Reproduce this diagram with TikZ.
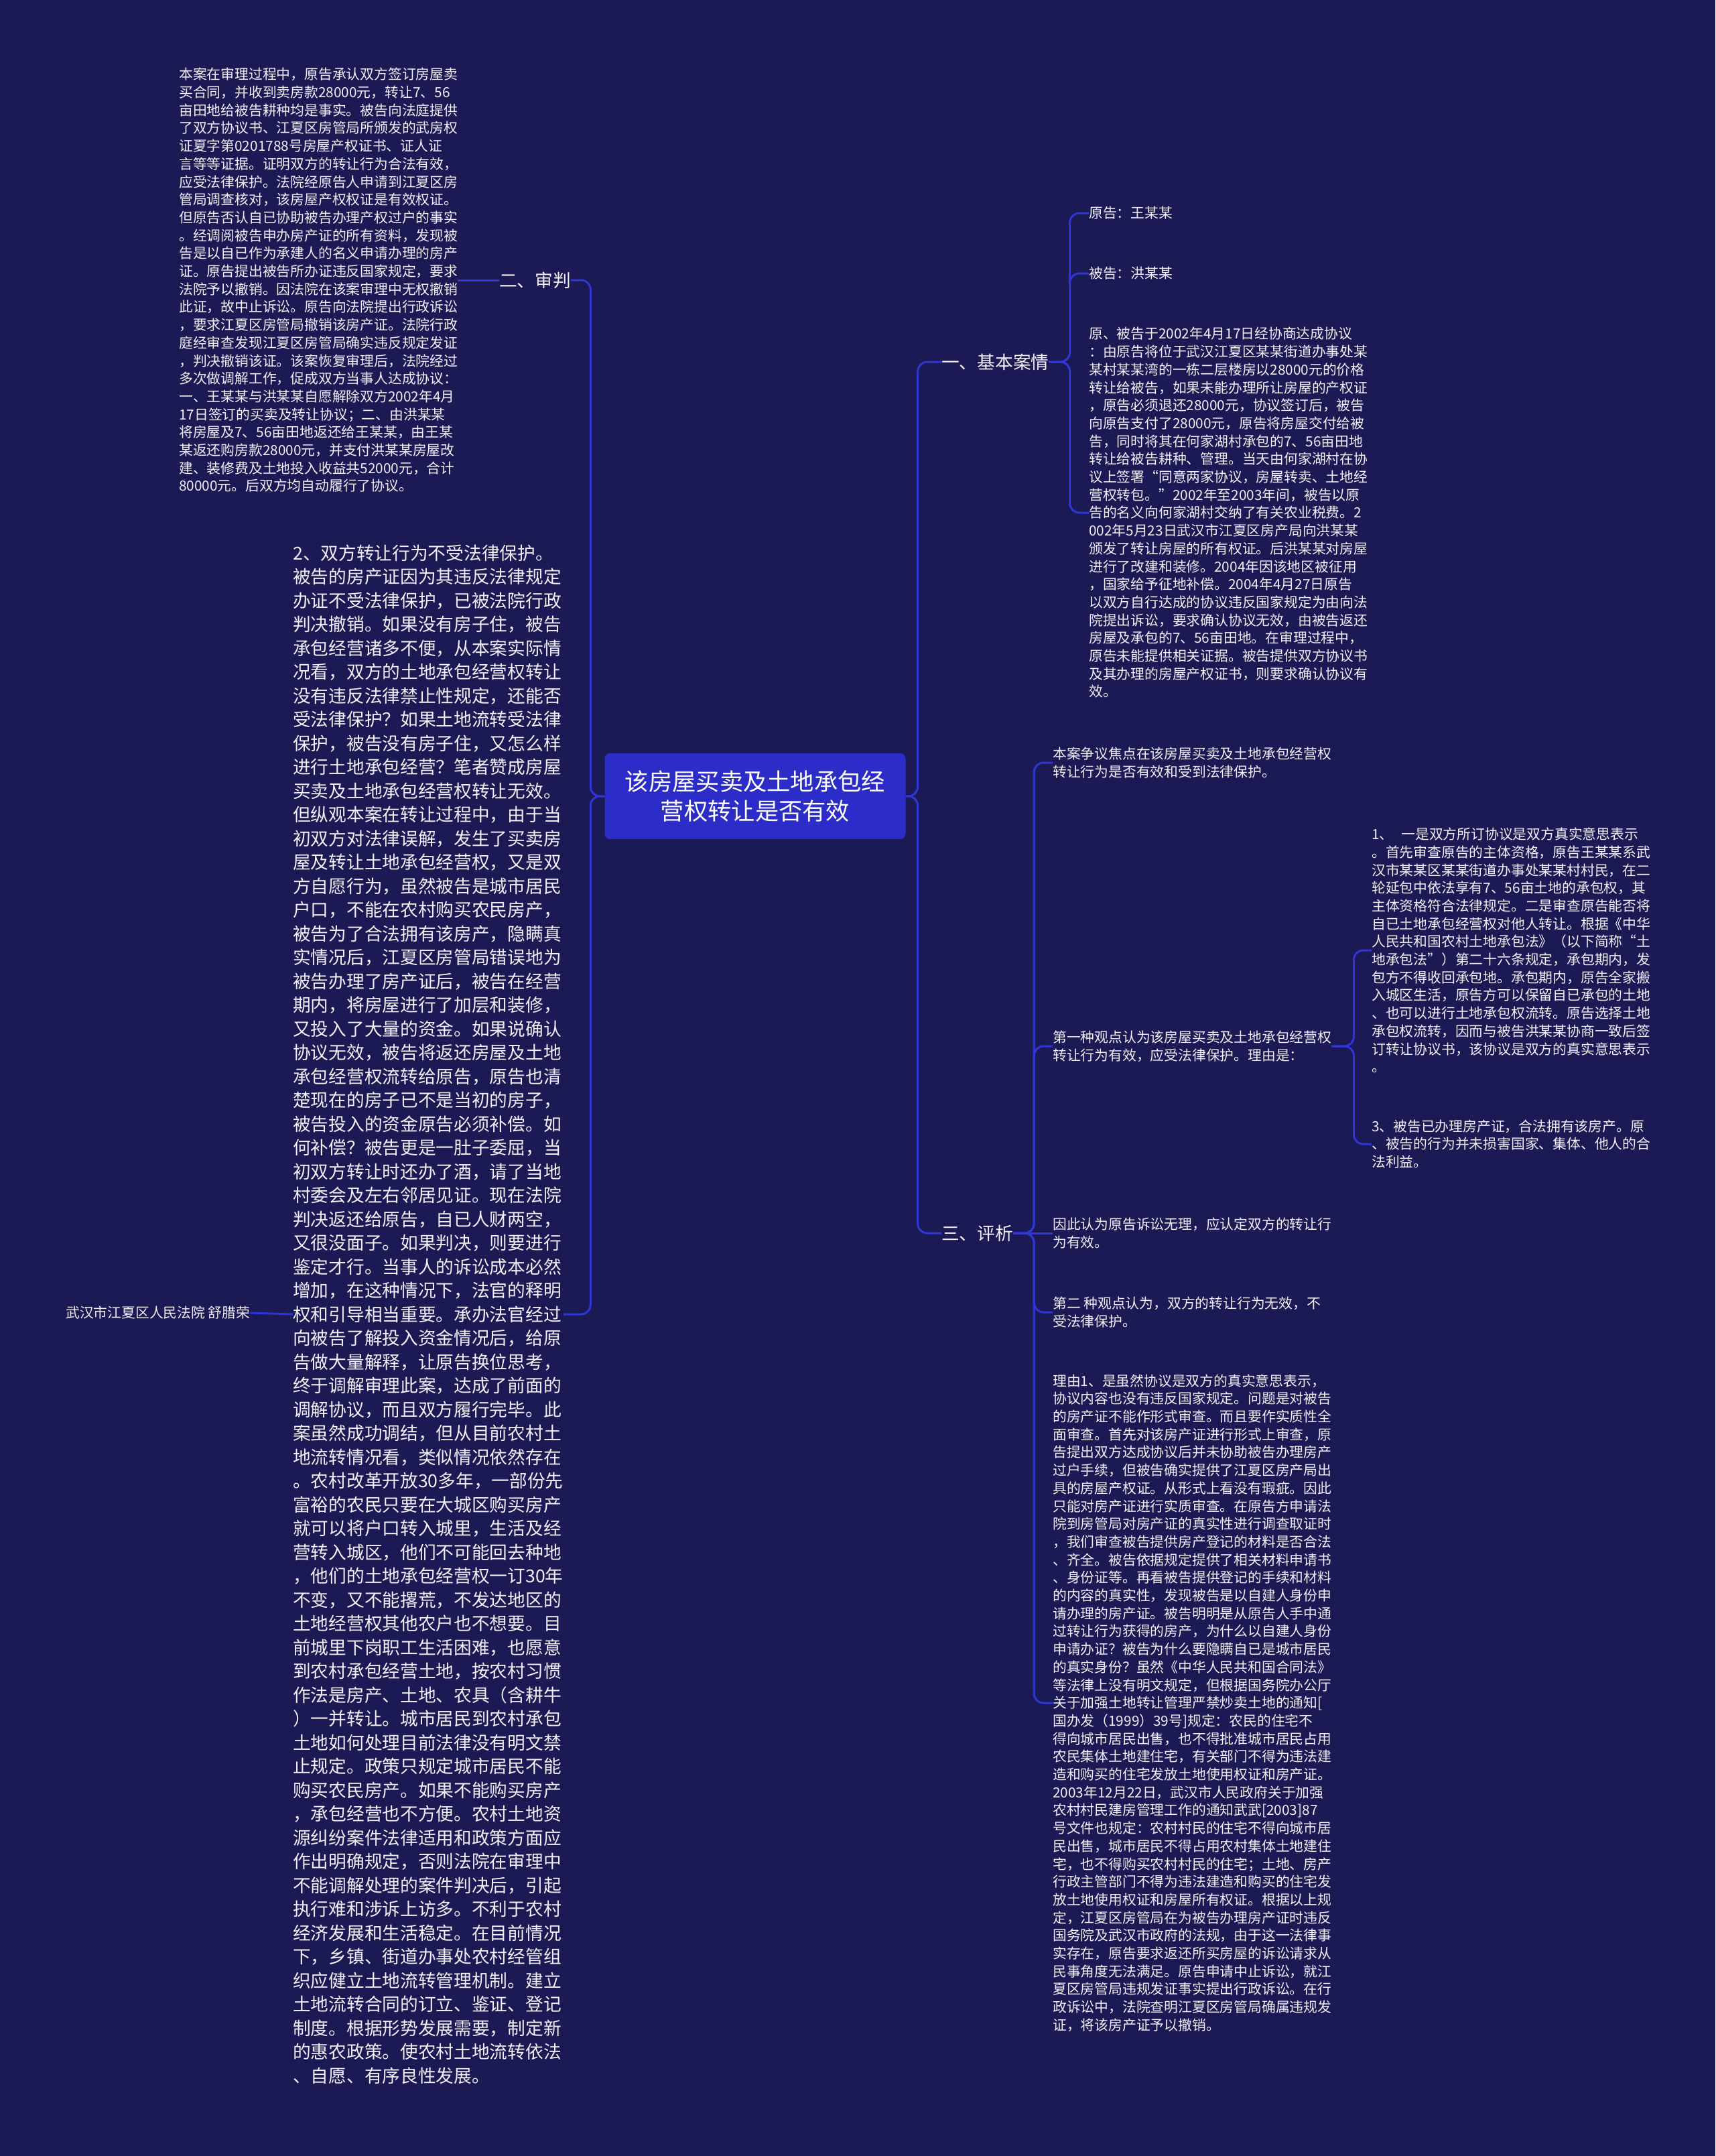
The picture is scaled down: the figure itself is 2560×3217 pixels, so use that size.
\documentclass[tikz,border=0pt]{standalone}
\usepackage{fontspec}
\setmainfont{Noto Sans CJK SC}
\definecolor{bgc}{HTML}{1B1A55}
\definecolor{centerc}{HTML}{2C2CC8}
\definecolor{linec}{HTML}{3036D6}
\definecolor{txtc}{HTML}{F0F0F6}
\begin{document}
\begin{tikzpicture}[x=1pt,y=-1pt,
  conn/.style={draw=linec, line width=3pt, rounded corners=14pt},
  small/.style={text=txtc, font=\fontsize{20.8}{26.7}\selectfont, align=left, inner sep=0pt, anchor=west},
  bigtext/.style={text=txtc, font=\fontsize{26.7}{35.5}\selectfont, align=left, inner sep=0pt, anchor=west},
  lbl/.style={text=txtc, font=\fontsize{26.7}{32}\selectfont, inner sep=0pt, anchor=west},
  rootbox/.style={fill=centerc, rounded corners=8pt, minimum width=449pt, minimum height=128pt, text=white, align=center, font=\fontsize{35.3}{44}\selectfont, inner sep=0pt}
]
\fill[bgc] (0,0) rectangle (2560,3217);
\useasboundingbox (0,0) rectangle (2560,3217);

% root
\node[rootbox] (root) at (1127,1188) {该房屋买卖及土地承包经\\营权转让是否有效};

% ---------- left side ----------
\node[lbl] (shenpan) at (745,418) {二、审判};
\node[small] (tl) at (267,418) {本案在审理过程中，原告承认双方签订房屋卖\\
买合同，并收到卖房款28000元，转让7、56\\
亩田地给被告耕种均是事实。被告向法庭提供\\
了双方协议书、江夏区房管局所颁发的武房权\\
证夏字第0201788号房屋产权证书、证人证\\
言等等证据。证明双方的转让行为合法有效，\\
应受法律保护。法院经原告人申请到江夏区房\\
管局调查核对，该房屋产权权证是有效权证。\\
但原告否认自已协助被告办理产权过户的事实\\
。经调阅被告申办房产证的所有资料，发现被\\
告是以自已作为承建人的名义申请办理的房产\\
证。原告提出被告所办证违反国家规定，要求\\
法院予以撤销。因法院在该案审理中无权撤销\\
此证，故中止诉讼。原告向法院提出行政诉讼\\
，要求江夏区房管局撤销该房产证。法院行政\\
庭经审查发现江夏区房管局确实违反规定发证\\
，判决撤销该证。该案恢复审理后，法院经过\\
多次做调解工作，促成双方当事人达成协议：\\
一、王某某与洪某某自愿解除双方2002年4月\\
17日签订的买卖及转让协议；二、由洪某某\\
将房屋及7、56亩田地返还给王某某，由王某\\
某返还购房款28000元，并支付洪某某房屋改\\
建、装修费及土地投入收益共52000元，合计\\
80000元。后双方均自动履行了协议。};

\node[bigtext] (bigleft) at (437,1961) {2、双方转让行为不受法律保护。\\
被告的房产证因为其违反法律规定\\
办证不受法律保护，已被法院行政\\
判决撤销。如果没有房子住，被告\\
承包经营诸多不便，从本案实际情\\
况看，双方的土地承包经营权转让\\
没有违反法律禁止性规定，还能否\\
受法律保护？如果土地流转受法律\\
保护，被告没有房子住，又怎么样\\
进行土地承包经营？笔者赞成房屋\\
买卖及土地承包经营权转让无效。\\
但纵观本案在转让过程中，由于当\\
初双方对法律误解，发生了买卖房\\
屋及转让土地承包经营权，又是双\\
方自愿行为，虽然被告是城市居民\\
户口，不能在农村购买农民房产，\\
被告为了合法拥有该房产，隐瞒真\\
实情况后，江夏区房管局错误地为\\
被告办理了房产证后，被告在经营\\
期内，将房屋进行了加层和装修，\\
又投入了大量的资金。如果说确认\\
协议无效，被告将返还房屋及土地\\
承包经营权流转给原告，原告也清\\
楚现在的房子已不是当初的房子，\\
被告投入的资金原告必须补偿。如\\
何补偿？被告更是一肚子委屈，当\\
初双方转让时还办了酒，请了当地\\
村委会及左右邻居见证。现在法院\\
判决返还给原告，自已人财两空，\\
又很没面子。如果判决，则要进行\\
鉴定才行。当事人的诉讼成本必然\\
增加，在这种情况下，法官的释明\\
权和引导相当重要。承办法官经过\\
向被告了解投入资金情况后，给原\\
告做大量解释，让原告换位思考，\\
终于调解审理此案，达成了前面的\\
调解协议，而且双方履行完毕。此\\
案虽然成功调结，但从目前农村土\\
地流转情况看，类似情况依然存在\\
。农村改革开放30多年，一部份先\\
富裕的农民只要在大城区购买房产\\
就可以将户口转入城里，生活及经\\
营转入城区，他们不可能回去种地\\
，他们的土地承包经营权一订30年\\
不变，又不能撂荒，不发达地区的\\
土地经营权其他农户也不想要。目\\
前城里下岗职工生活困难，也愿意\\
到农村承包经营土地，按农村习惯\\
作法是房产、土地、农具（含耕牛\\
）一并转让。城市居民到农村承包\\
土地如何处理目前法律没有明文禁\\
止规定。政策只规定城市居民不能\\
购买农民房产。如果不能购买房产\\
，承包经营也不方便。农村土地资\\
源纠纷案件法律适用和政策方面应\\
作出明确规定，否则法院在审理中\\
不能调解处理的案件判决后，引起\\
执行难和涉诉上访多。不利于农村\\
经济发展和生活稳定。在目前情况\\
下，乡镇、街道办事处农村经管组\\
织应健立土地流转管理机制。建立\\
土地流转合同的订立、鉴证、登记\\
制度。根据形势发展需要，制定新\\
的惠农政策。使农村土地流转依法\\
、自愿、有序良性发展。};

\node[small] (wuhan) at (98,1959) {武汉市江夏区人民法院 舒腊荣};

% ---------- right side ----------
\node[lbl] (jiben) at (1405,540) {一、基本案情};
\node[lbl] (pingxi) at (1405,1840) {三、评析};

\node[small] (yuangao) at (1625,318) {原告：王某某};
\node[small] (beigao) at (1625,408) {被告：洪某某};
\node[small] (anqing) at (1625,765) {原、被告于2002年4月17日经协商达成协议\\
：由原告将位于武汉江夏区某某街道办事处某\\
某村某某湾的一栋二层楼房以28000元的价格\\
转让给被告，如果未能办理所让房屋的产权证\\
，原告必须退还28000元，协议签订后，被告\\
向原告支付了28000元，原告将房屋交付给被\\
告，同时将其在何家湖村承包的7、56亩田地\\
转让给被告耕种、管理。当天由何家湖村在协\\
议上签署“同意两家协议，房屋转卖、土地经\\
营权转包。”2002年至2003年间，被告以原\\
告的名义向何家湖村交纳了有关农业税费。2\\
002年5月23日武汉市江夏区房产局向洪某某\\
颁发了转让房屋的所有权证。后洪某某对房屋\\
进行了改建和装修。2004年因该地区被征用\\
，国家给予征地补偿。2004年4月27日原告\\
以双方自行达成的协议违反国家规定为由向法\\
院提出诉讼，要求确认协议无效，由被告返还\\
房屋及承包的7、56亩田地。在审理过程中，\\
原告未能提供相关证据。被告提供双方协议书\\
及其办理的房屋产权证书，则要求确认协议有\\
效。};

\node[small] (zhengyi) at (1571,1138) {本案争议焦点在该房屋买卖及土地承包经营权\\
转让行为是否有效和受到法律保护。};
\node[small] (gd1) at (1571,1561) {第一种观点认为该房屋买卖及土地承包经营权\\
转让行为有效，应受法律保护。理由是：};
\node[small] (yinci) at (1571,1840) {因此认为原告诉讼无理，应认定双方的转让行\\
为有效。};
\node[small] (gd2) at (1571,1958) {第二 种观点认为，双方的转让行为无效，不\\
受法律保护。};
\node[small] (liyou) at (1571,2541) {理由1、是虽然协议是双方的真实意思表示，\\
协议内容也没有违反国家规定。问题是对被告\\
的房产证不能作形式审查。而且要作实质性全\\
面审查。首先对该房产证进行形式上审查，原\\
告提出双方达成协议后并未协助被告办理房产\\
过户手续，但被告确实提供了江夏区房产局出\\
具的房屋产权证。从形式上看没有瑕疵。因此\\
只能对房产证进行实质审查。在原告方申请法\\
院到房管局对房产证的真实性进行调查取证时\\
，我们审查被告提供房产登记的材料是否合法\\
、齐全。被告依据规定提供了相关材料申请书\\
、身份证等。再看被告提供登记的手续和材料\\
的内容的真实性，发现被告是以自建人身份申\\
请办理的房产证。被告明明是从原告人手中通\\
过转让行为获得的房产，为什么以自建人身份\\
申请办证？被告为什么要隐瞒自已是城市居民\\
的真实身份？虽然《中华人民共和国合同法》\\
等法律上没有明文规定，但根据国务院办公厅\\
关于加强土地转让管理严禁炒卖土地的通知[\\
国办发（1999）39号]规定：农民的住宅不\\
得向城市居民出售，也不得批准城市居民占用\\
农民集体土地建住宅，有关部门不得为违法建\\
造和购买的住宅发放土地使用权证和房产证。\\
2003年12月22日，武汉市人民政府关于加强\\
农村村民建房管理工作的通知武武[2003]87\\
号文件也规定：农村村民的住宅不得向城市居\\
民出售，城市居民不得占用农村集体土地建住\\
宅，也不得购买农村村民的住宅；土地、房产\\
行政主管部门不得为违法建造和购买的住宅发\\
放土地使用权证和房屋所有权证。根据以上规\\
定，江夏区房管局在为被告办理房产证时违反\\
国务院及武汉市政府的法规，由于这一法律事\\
实存在，原告要求返还所买房屋的诉讼请求从\\
民事角度无法满足。原告申请中止诉讼，就江\\
夏区房管局违规发证事实提出行政诉讼。在行\\
政诉讼中，法院查明江夏区房管局确属违规发\\
证，将该房产证予以撤销。};

\node[small] (item1) at (2047,1418) {1、\hspace{12pt}一是双方所订协议是双方真实意思表示\\
。首先审查原告的主体资格，原告王某某系武\\
汉市某某区某某街道办事处某某村村民，在二\\
轮延包中依法享有7、56亩土地的承包权，其\\
主体资格符合法律规定。二是审查原告能否将\\
自已土地承包经营权对他人转让。根据《中华\\
人民共和国农村土地承包法》（以下简称“土\\
地承包法”）第二十六条规定，承包期内，发\\
包方不得收回承包地。承包期内，原告全家搬\\
入城区生活，原告方可以保留自已承包的土地\\
、也可以进行土地承包权流转。原告选择土地\\
承包权流转，因而与被告洪某某协商一致后签\\
订转让协议书，该协议是双方的真实意思表示\\
。};
\node[small] (item3) at (2047,1707) {3、被告已办理房产证，合法拥有该房产。原\\
、被告的行为并未损害国家、集体、他人的合\\
法利益。};

% ---------- connectors ----------
\draw[conn] (root.west) -- ++(-21,0) |- (shenpan.east);
\draw[conn] (root.west) -- ++(-21,0) |- (bigleft.east);
\draw[conn] (tl.east) -- (shenpan.west);
\draw[conn] (bigleft.west) -- (wuhan.east);

\draw[conn] (root.east) -- ++(18,0) |- (jiben.west);
\draw[conn] (root.east) -- ++(18,0) |- (pingxi.west);

\draw[conn] (jiben.east) -- ++(31,0) |- (yuangao.west);
\draw[conn] (jiben.east) -- ++(31,0) |- (beigao.west);
\draw[conn] (jiben.east) -- ++(31,0) |- (anqing.west);

\draw[conn] (pingxi.east) -- ++(31,0) |- (zhengyi.west);
\draw[conn] (pingxi.east) -- ++(31,0) |- (gd1.west);
\draw[conn] (pingxi.east) -- (yinci.west);
\draw[conn] (pingxi.east) -- ++(31,0) |- (gd2.west);
\draw[conn] (pingxi.east) -- ++(31,0) |- (liyou.west);

\draw[conn] (gd1.east) -- ++(33,0) |- (item1.west);
\draw[conn] (gd1.east) -- ++(33,0) |- (item3.west);
\end{tikzpicture}
\end{document}
